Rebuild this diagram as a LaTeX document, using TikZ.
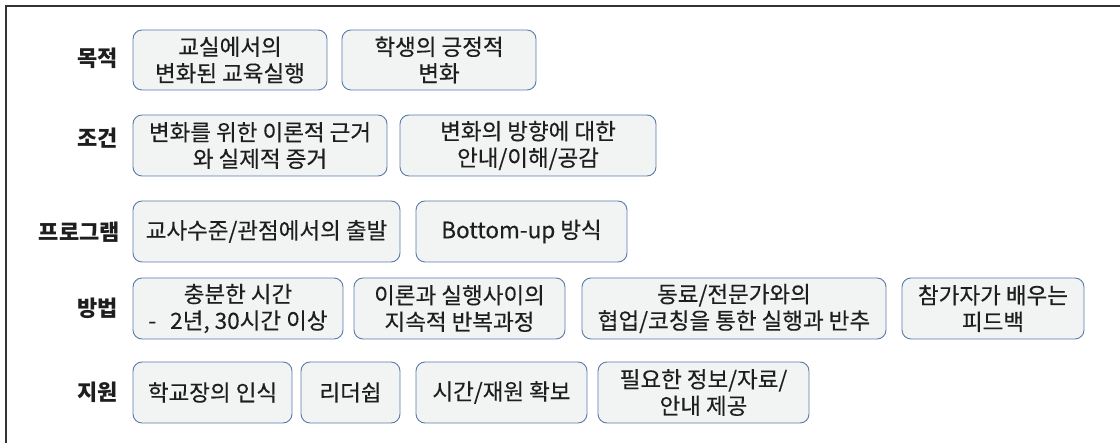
\documentclass[tikz,border=0pt]{standalone}
\usepackage{fontspec}
\setmainfont{Noto Sans CJK KR}
\newfontfamily\boxfont[FakeBold=0.3]{Noto Sans CJK KR}
\definecolor{boxline}{HTML}{5B7BAA}
\definecolor{boxfill}{HTML}{F2F3F3}
\definecolor{frameline}{HTML}{333333}
\definecolor{txt}{HTML}{1E1E1E}
\begin{document}
\begin{tikzpicture}[x=1pt,y=-1pt,
  box/.style={draw=boxline, fill=boxfill, rounded corners=9pt, line width=0.9pt,
    inner sep=0pt, align=center, text=txt, font=\boxfont\fontsize{22.5}{26.5}\selectfont},
  lab/.style={anchor=east, inner sep=0pt, text=txt, font=\fontsize{22}{26}\selectfont\bfseries}]
\useasboundingbox (0,0) rectangle (1120,443);
% frame
\coordinate (fb) at (6,443);
\coordinate (fc) at (6,6);
\coordinate (fr) at (1120,6);
\draw[frameline, line width=1.6pt] (fb) -- (fc) -- (fr);
% labels
\node[lab] (l1) at (118,58) {목적};
\node[lab] (l2) at (118,138) {조건};
\node[lab] (l3) at (120,232) {프로그램};
\node[lab] (l4) at (118,308) {방법};
\node[lab] (l5) at (118,392) {지원};
% row 1
\node[box, minimum width=194pt, minimum height=60pt] (a1) at (230,60) {교실에서의\\변화된 교육실행};
\node[box, minimum width=194pt, minimum height=60pt] (a2) at (439,60) {학생의 긍정적\\변화};
% row 2
\node[box, minimum width=254pt, minimum height=61pt] (b1) at (260,145.5) {변화를 위한 이론적 근거\\와 실제적 증거};
\node[box, minimum width=256pt, minimum height=61pt] (b2) at (528,145.5) {변화의 방향에 대한\\안내/이해/공감};
% row 3
\node[box, minimum width=267pt, minimum height=61pt] (c1) at (266.5,231.5) {교사수준/관점에서의 출발};
\node[box, minimum width=211pt, minimum height=61pt] (c2) at (521.5,231.5) {Bottom-up 방식};
% row 4
\node[box, minimum width=210pt, minimum height=61pt] (d1) at (238,308.5) {충분한 시간\\-\hspace{14pt}2년, 30시간 이상};
\node[box, minimum width=211pt, minimum height=61pt] (d2) at (459.5,308.5) {이론과 실행사이의\\지속적 반복과정};
\node[box, minimum width=304pt, minimum height=61pt] (d3) at (734,308.5) {동료/전문가와의\\협업/코칭을 통한 실행과 반추};
\node[box, minimum width=182pt, minimum height=61pt] (d4) at (993,308.5) {참가자가 배우는\\피드백};
% row 5
\node[box, minimum width=159pt, minimum height=61pt] (e1) at (212.5,392.5) {학교장의 인식};
\node[box, minimum width=99pt, minimum height=61pt] (e2) at (350.5,392.5) {리더쉽};
\node[box, minimum width=171pt, minimum height=61pt] (e3) at (501.5,392.5) {시간/재원 확보};
\node[box, minimum width=211pt, minimum height=61pt] (e4) at (703.5,392.5) {필요한 정보/자료/\\안내 제공};
\end{tikzpicture}
\end{document}
